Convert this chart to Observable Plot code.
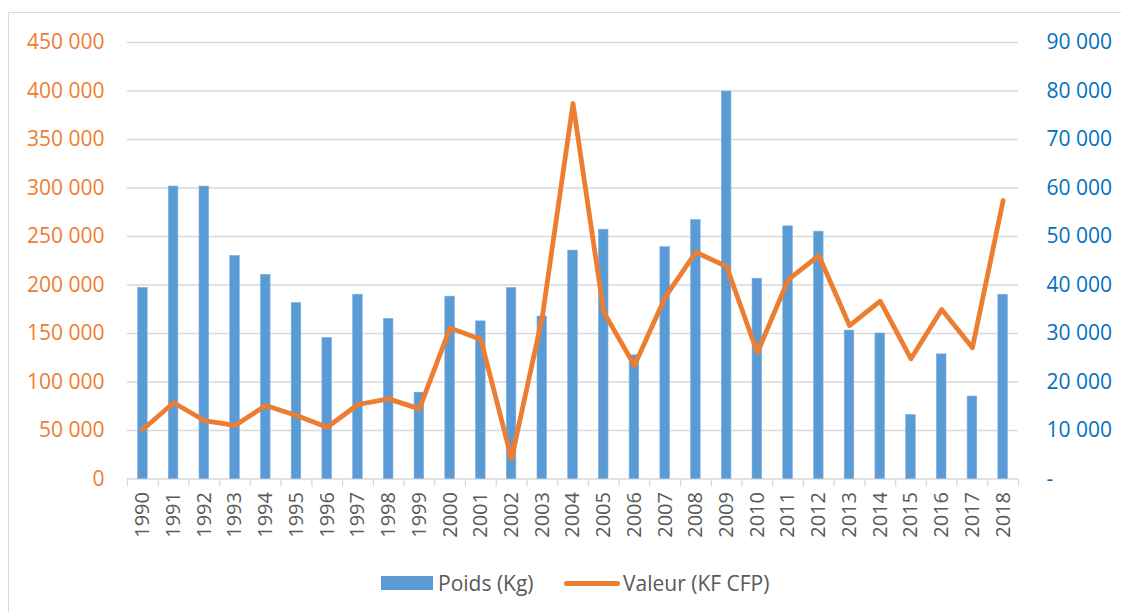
<!DOCTYPE html>
<html>
<head>
<meta charset="utf-8">
<script src="https://cdn.jsdelivr.net/npm/d3@7"></script>
<script src="https://cdn.jsdelivr.net/npm/@observablehq/plot@0.6"></script>
<style>
  html, body { margin: 0; padding: 0; background: #fff; overflow: hidden; }
  #wrap { position: relative; width: 1121px; height: 612px; overflow: hidden; font-family: "Open Sans", sans-serif; }
  #frame { position: absolute; left: 8px; top: 12px; width: 1300px; height: 800px; border: 1.5px solid #d9d9d9; box-sizing: border-box; }
  #chart { position: absolute; left: 0; top: 0; }
  #legend { position: absolute; left: 0; top: 568px; width: 1121px; height: 30px; font-size: 21px; color: #595959; }
  .sw-bar { position: absolute; left: 381px; top: 8px; width: 52px; height: 14px; background: #5B9BD5; }
  .lab1 { position: absolute; left: 438px; top: 0px; line-height: 30px; }
  .sw-line { position: absolute; left: 564px; top: 13px; width: 56px; height: 4.5px; border-radius: 3px; background: #ED7D31; }
  .lab2 { position: absolute; left: 623px; top: 0px; line-height: 30px; }
</style>
</head>
<body>
<div id="wrap">
  <div id="frame"></div>
  <div id="chart"></div>
  <div id="legend">
    <div class="sw-bar"></div><div class="lab1">Poids (Kg)</div>
    <div class="sw-line"></div><div class="lab2">Valeur (KF CFP)</div>
  </div>
</div>
<script>
const years = ["1990","1991","1992","1993","1994","1995","1996","1997","1998","1999","2000","2001","2002","2003","2004","2005","2006","2007","2008","2009","2010","2011","2012","2013","2014","2015","2016","2017","2018"];
const poids = [39400,60300,60300,46000,42100,36300,29100,38000,33000,17800,37600,32500,39400,33500,47100,51400,25500,47800,53400,79900,41300,52100,51000,30600,30000,13200,25700,17000,38000];
const valeur = [51000,78600,60300,55200,75800,65500,53400,76800,82600,72300,155800,143800,20800,166800,387100,172000,117000,187400,233800,219100,130100,205300,230400,158200,183300,123900,174700,135300,287100];
const leftTicks = [0,50000,100000,150000,200000,250000,300000,350000,400000,450000];
const rightTicks = [0,10000,20000,30000,40000,50000,60000,70000,80000,90000];

const ratio = leftTicks[leftTicks.length-1] / rightTicks[rightTicks.length-1];
const rows = years.map((y, i) => ({year: y, poids: poids[i], valeur: valeur[i]}));
const fmt = v => d3.format(",")(v).replace(/,/g, " ");

const W = 1121, H = 550, ML = 127, MR = 103, MT = 42, MB = 71.5;
const step = (W - ML - MR) / years.length;
const inset = (step - 9.6) / 2;

const chart = Plot.plot({
  width: W, height: H,
  marginLeft: ML, marginRight: MR, marginTop: MT, marginBottom: MB,
  style: {fontFamily: "Open Sans, sans-serif", background: "transparent", overflow: "visible"},
  x: {domain: years, padding: 0, round: false, axis: null, label: null},
  y: {domain: [0, 450000], axis: null, label: null},
  marks: [
    Plot.ruleY(leftTicks, {stroke: "#d9d9d9", strokeWidth: 1.3}),
    Plot.barY(rows, {x: "year", y: d => d.poids * ratio, fill: "#5B9BD5", stroke: "#7fb0df", strokeWidth: 0.6, insetLeft: inset, insetRight: inset}),
    Plot.axisX({tickSize: 8, tickFormat: () => "", stroke: "#d9d9d9", strokeWidth: 1.3, dx: -step / 2, label: null}),
    Plot.axisX([years[years.length-1]], {tickSize: 8, tickFormat: () => "", stroke: "#d9d9d9", strokeWidth: 1.3, dx: step / 2, label: null}),
    Plot.axisX({tickSize: 0, tickPadding: 13, tickRotate: -90, fontSize: 20, fill: "#595959", label: null}),
    Plot.lineY(rows, {x: "year", y: "valeur", stroke: "#ED7D31", strokeWidth: 4.8, strokeLinejoin: "round", strokeLinecap: "round"}),
    Plot.axisY(leftTicks, {anchor: "left", tickSize: 0, tickPadding: 23, tickFormat: fmt, fontSize: 21, fill: "#ED7D31", label: null}),
    Plot.axisY(rightTicks.map(v => v * ratio), {anchor: "right", tickSize: 0, tickPadding: 28, tickFormat: v => v === 0 ? "-" : fmt(v / ratio), fontSize: 21, fill: "#0070C0", textAnchor: "start", label: null})
  ]
});
document.getElementById("chart").appendChild(chart);
</script>
</body>
</html>
